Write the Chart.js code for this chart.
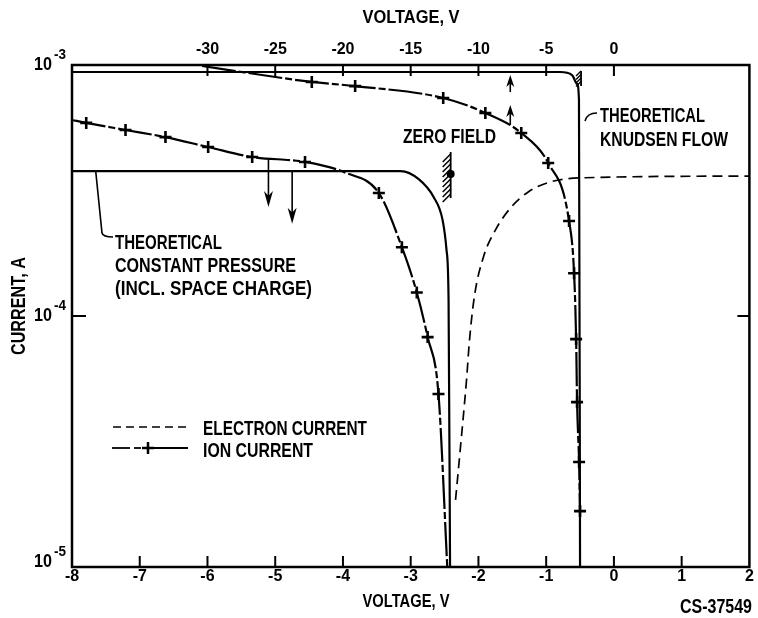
<!DOCTYPE html>
<html><head><meta charset="utf-8">
<script src="https://cdn.jsdelivr.net/npm/chart.js@4/dist/chart.umd.min.js"></script>
<style>html,body{margin:0;padding:0;background:#fff;}canvas{display:block;}</style>
</head><body>
<canvas id="c" width="758" height="618"></canvas>
<script>
// ---------- data ----------
// bottom-axis voltage ticks (V) and top-axis voltage ticks (V)
const bottomTicks = [-8, -7, -6, -5, -4, -3, -2, -1, 0, 1, 2];
const topTicks = [-30, -25, -20, -15, -10, -5, 0];
const yTickLabels = [1e-3, 1e-4, 1e-5];
const yTickMarks = [1e-4];

// Theoretical Knudsen flow (top voltage axis)
const knudsenV = [-40, -3.97, -3.09, -2.72, -2.58, -2.50];
const knudsenI = [9.38e-4, 9.38e-4, 9.12e-4, 8.40e-4, 7.26e-4, 1e-5];

// Theoretical constant pressure incl. space charge (bottom voltage axis)
const constPV = [-8, -3.147, -2.882, -2.662, -2.529, -2.471, -2.441, -2.419];
const constPI = [3.78e-4, 3.78e-4, 3.51e-4, 2.98e-4, 2.41e-4, 1.83e-4, 1.16e-4, 1e-5];

// Electron current (bottom voltage axis)
const electronV = [-2.338, -2.265, -2.176, -2.132, -2.059, -1.926, -1.75, -1.529, -1.265, -0.941, -0.5, 2];
const electronI = [1.85e-5, 3.01e-5, 5.56e-5, 8.02e-5, 1.20e-4, 1.72e-4, 2.20e-4, 2.69e-4, 3.12e-4, 3.42e-4, 3.55e-4, 3.61e-4];

// Ion current, upper branch (top voltage axis)
const ionTopV = [-30.4, -22.3, -19.1, -12.6, -9.49, -6.84, -4.85, -3.31, -2.94, -2.79, -2.72, -2.57, -2.50];
const ionTopI = [9.91e-4, 8.56e-4, 8.24e-4, 7.39e-4, 6.44e-4, 5.36e-4, 4.07e-4, 2.39e-4, 1.48e-4, 8.09e-5, 4.54e-5, 2.62e-5, 1.67e-5];
const ionTopMarked = [0, 1, 1, 1, 1, 1, 1, 1, 1, 1, 1, 1, 1];

// Ion current, lower branch (bottom voltage axis)
const ionLowV = [-8, -7.79, -7.21, -6.62, -5.99, -5.34, -4.56, -3.96, -3.47, -3.13, -2.91, -2.75, -2.59, -2.46];
const ionLowI = [6.04e-4, 5.88e-4, 5.51e-4, 5.16e-4, 4.71e-4, 4.30e-4, 4.11e-4, 3.72e-4, 3.09e-4, 1.88e-4, 1.24e-4, 8.24e-5, 4.89e-5, 1e-5];
const ionLowMarked = [0, 1, 1, 1, 1, 1, 1, 0, 1, 1, 1, 1, 1, 0];

// Arrows pointing to the axis used by each ion branch
const downArrowV = [-5.1, -4.75];
const downArrowFrom = [4.26e-4, 3.78e-4];
const downArrowTo = [2.72e-4, 2.33e-4];
const upArrowV = [-7.65, -7.65];
const upArrowFrom = [7.8e-4, 5.77e-4];
const upArrowTo = [9.12e-4, 6.93e-4];

// Zero-field marker (bottom axis)
const zeroFieldV = -2.41;
const zeroFieldI = 3.68e-4;
const zeroFieldRange = [4.5e-4, 2.95e-4];

// Texts
const axisTitleX = 'VOLTAGE, V';
const axisTitleY = 'CURRENT, A';
const figureId = 'CS-37549';
const legendLabels = ['ELECTRON CURRENT', 'ION CURRENT'];
const zeroFieldLabel = 'ZERO FIELD';
const knudsenLabel = ['THEORETICAL', 'KNUDSEN FLOW'];
const constPLabel = ['THEORETICAL', 'CONSTANT PRESSURE', '(INCL. SPACE CHARGE)'];

// ---------- drawing ----------
const FONT = '"Liberation Sans", Arial, "DejaVu Sans", sans-serif';
const pts = (xs, ys) => xs.map((v, i) => ({x: v, y: ys[i]}));

function fitText(ctx, str, x, yc, w, cap, align, rot) {
  const size = cap / 0.716;
  ctx.save();
  ctx.font = 'bold ' + size + 'px ' + FONT;
  const mw = ctx.measureText(str).width;
  ctx.translate(x, yc);
  if (rot) ctx.rotate(rot);
  ctx.scale(w / mw, 1);
  ctx.textBaseline = 'alphabetic';
  ctx.textAlign = align === 'center' ? 'center' : 'left';
  ctx.fillStyle = '#000';
  ctx.fillText(str, 0, cap / 2);
  ctx.restore();
}

function arrow(ctx, x, y1, y2, hl, hw) {
  const dir = y2 > y1 ? 1 : -1;
  ctx.beginPath();
  ctx.moveTo(x, y1);
  ctx.lineTo(x, y2 - dir * hl * 0.6);
  ctx.stroke();
  ctx.beginPath();
  ctx.moveTo(x, y2);
  ctx.lineTo(x - hw, y2 - dir * hl);
  ctx.lineTo(x, y2 - dir * hl * 0.7);
  ctx.lineTo(x + hw, y2 - dir * hl);
  ctx.closePath();
  ctx.fill();
}

const decor = {
  id: 'decor',
  afterDraw(chart) {
    const {ctx, chartArea: a} = chart;
    const sx = chart.scales.x, st = chart.scales.xTop, sy = chart.scales.y;
    ctx.save();
    ctx.strokeStyle = '#000';
    ctx.fillStyle = '#000';
    ctx.lineCap = 'butt';

    // frame
    ctx.lineWidth = 2.5;
    ctx.strokeRect(a.left, a.top, a.right - a.left, a.bottom - a.top);

    // inward ticks
    ctx.lineWidth = 2;
    sx.ticks.forEach(t => {
      if (t.value === sx.min || t.value === sx.max) return;
      const px = sx.getPixelForValue(t.value);
      ctx.beginPath(); ctx.moveTo(px, a.bottom); ctx.lineTo(px, a.bottom - 11); ctx.stroke();
    });
    st.ticks.forEach(t => {
      const px = st.getPixelForValue(t.value);
      ctx.beginPath(); ctx.moveTo(px, a.top); ctx.lineTo(px, a.top + 11); ctx.stroke();
    });
    yTickMarks.forEach(v => {
      const py = sy.getPixelForValue(v);
      ctx.beginPath(); ctx.moveTo(a.left, py); ctx.lineTo(a.left + 14, py); ctx.stroke();
      ctx.beginPath(); ctx.moveTo(a.right, py); ctx.lineTo(a.right - 12, py); ctx.stroke();
    });

    // y tick labels 10^n
    yTickLabels.forEach(v => {
      const py = sy.getPixelForValue(v);
      const exp = Math.round(Math.log10(v));
      const yc = (v === sy.min) ? py - 7 : py - 2;
      fitText(ctx, '10', 34, yc, 18, 13, 'left');
      fitText(ctx, String(exp), 54, yc - 9.5, 12, 10, 'left');
    });

    // axis titles and id
    fitText(ctx, axisTitleX, 411, 16.5, 97, 13, 'center');
    fitText(ctx, axisTitleX, 406, 600, 87, 13, 'center');
    fitText(ctx, axisTitleY, 17.5, 306, 98, 14, 'center', -Math.PI / 2);
    fitText(ctx, figureId, 680, 606, 72, 14, 'left');

    // annotations
    fitText(ctx, zeroFieldLabel, 403, 136, 93, 14, 'left');
    fitText(ctx, knudsenLabel[0], 600, 115, 105, 14, 'left');
    fitText(ctx, knudsenLabel[1], 600, 138.5, 128, 14, 'left');
    fitText(ctx, constPLabel[0], 115, 241.5, 107, 15, 'left');
    fitText(ctx, constPLabel[1], 115, 264, 181, 15, 'left');
    fitText(ctx, constPLabel[2], 115, 287.5, 197, 15, 'left');

    // leaders
    ctx.lineWidth = 1.6;
    ctx.beginPath();
    ctx.moveTo(sx.getPixelForValue(-7.65), sy.getPixelForValue(constPI[0]));
    ctx.lineTo(102, 233);
    ctx.quadraticCurveTo(103, 237, 113, 237);
    ctx.stroke();
    ctx.beginPath();
    ctx.moveTo(585, 121);
    ctx.quadraticCurveTo(587, 113, 597, 113);
    ctx.stroke();

    // legend
    ctx.lineWidth = 1.6;
    ctx.setLineDash([8, 5]);
    ctx.beginPath(); ctx.moveTo(113, 427); ctx.lineTo(190, 427); ctx.stroke();
    ctx.setLineDash([]);
    ctx.lineWidth = 1.8;
    [[112, 130], [134, 141], [154, 188]].forEach(s => {
      ctx.beginPath(); ctx.moveTo(s[0], 448); ctx.lineTo(s[1], 448); ctx.stroke();
    });
    ctx.lineWidth = 2.5;
    ctx.beginPath(); ctx.moveTo(142, 448); ctx.lineTo(154, 448); ctx.moveTo(148, 442); ctx.lineTo(148, 454); ctx.stroke();
    fitText(ctx, legendLabels[0], 203, 428, 164, 14, 'left');
    fitText(ctx, legendLabels[1], 203, 450, 110, 14, 'left');

    // arrows
    ctx.lineWidth = 1.6;
    downArrowV.forEach((v, i) => {
      arrow(ctx, sx.getPixelForValue(v), sy.getPixelForValue(downArrowFrom[i]), sy.getPixelForValue(downArrowTo[i]), 16, 4.5);
    });
    upArrowV.forEach((v, i) => {
      arrow(ctx, st.getPixelForValue(v), sy.getPixelForValue(upArrowFrom[i]), sy.getPixelForValue(upArrowTo[i]), 12, 4);
    });

    // zero field marker
    const zx = sx.getPixelForValue(zeroFieldV);
    const zy1 = sy.getPixelForValue(zeroFieldRange[0]);
    const zy2 = sy.getPixelForValue(zeroFieldRange[1]);
    ctx.lineWidth = 1.8;
    ctx.beginPath(); ctx.moveTo(zx, zy1); ctx.lineTo(zx, zy2); ctx.stroke();
    ctx.lineWidth = 1.5;
    for (let yy = zy1 + 2; yy < zy2 - 4; yy += 5) {
      ctx.beginPath(); ctx.moveTo(zx, yy); ctx.lineTo(zx - 8, yy + 8); ctx.stroke();
    }
    ctx.beginPath(); ctx.arc(zx, sy.getPixelForValue(zeroFieldI), 4, 0, Math.PI * 2); ctx.fill();

    // Knudsen wall hatch
    const kx = st.getPixelForValue(knudsenV[knudsenV.length - 1]) + 1;
    ctx.lineWidth = 1.8;
    ctx.beginPath(); ctx.moveTo(kx, a.top + 6); ctx.lineTo(kx, a.top + 21); ctx.stroke();
    ctx.lineWidth = 1.3;
    for (let yy = a.top + 6; yy < a.top + 19; yy += 3.5) {
      ctx.beginPath(); ctx.moveTo(kx, yy); ctx.lineTo(kx - 5, yy + 5); ctx.stroke();
    }
    ctx.restore();
  }
};

const tickFont = {family: FONT, weight: 'bold', size: 16};
new Chart(document.getElementById('c'), {
  type: 'line',
  data: {
    datasets: [
      {label: 'Theoretical Knudsen flow', xAxisID: 'xTop', yAxisID: 'y', data: pts(knudsenV, knudsenI),
       borderColor: '#000', borderWidth: 2.2, pointRadius: 0, cubicInterpolationMode: 'monotone', fill: false},
      {label: 'Theoretical constant pressure', xAxisID: 'x', yAxisID: 'y', data: pts(constPV, constPI),
       borderColor: '#000', borderWidth: 2.2, pointRadius: 0, cubicInterpolationMode: 'monotone', fill: false},
      {label: 'Electron current', xAxisID: 'x', yAxisID: 'y', data: pts(electronV, electronI),
       borderColor: '#000', borderWidth: 1.7, borderDash: [10, 6], pointRadius: 0, cubicInterpolationMode: 'monotone', fill: false},
      {label: 'Ion current (top axis)', xAxisID: 'xTop', yAxisID: 'y', data: pts(ionTopV, ionTopI),
       borderColor: '#000', borderWidth: 2.2, borderDash: [34, 3, 7, 3], cubicInterpolationMode: 'monotone', fill: false,
       pointStyle: 'cross', pointRadius: c => ionTopMarked[c.dataIndex] ? 6 : 0, pointBorderWidth: 2.6,
       pointBorderColor: '#000', pointBackgroundColor: '#000'},
      {label: 'Ion current (bottom axis)', xAxisID: 'x', yAxisID: 'y', data: pts(ionLowV, ionLowI),
       borderColor: '#000', borderWidth: 2.2, borderDash: [34, 3, 7, 3], cubicInterpolationMode: 'monotone', fill: false,
       pointStyle: 'cross', pointRadius: c => ionLowMarked[c.dataIndex] ? 6 : 0, pointBorderWidth: 2.6,
       pointBorderColor: '#000', pointBackgroundColor: '#000'}
    ]
  },
  options: {
    responsive: false, animation: false, devicePixelRatio: 1,
    layout: {padding: {left: 0, right: 6, top: 0, bottom: 0}},
    plugins: {legend: {display: false}, tooltip: {enabled: false}},
    scales: {
      x: {type: 'linear', position: 'bottom', min: -8, max: 2,
          afterBuildTicks: s => { s.ticks = bottomTicks.map(v => ({value: v})); },
          ticks: {autoSkip: false, maxRotation: 0, padding: 0, color: '#000', font: tickFont},
          grid: {display: false, drawTicks: false}, border: {display: false},
          afterFit: s => { s.height = 51; }},
      xTop: {type: 'linear', position: 'top', min: -40, max: 10,
          afterBuildTicks: s => { s.ticks = topTicks.map(v => ({value: v})); },
          ticks: {autoSkip: false, maxRotation: 0, padding: 6, color: '#000', font: tickFont},
          grid: {display: false, drawTicks: false}, border: {display: false},
          afterFit: s => { s.height = 65; }},
      y: {type: 'logarithmic', position: 'left', min: 1e-5, max: 1e-3,
          ticks: {display: false}, grid: {display: false, drawTicks: false}, border: {display: false},
          afterFit: s => { s.width = 72; }}
    }
  },
  plugins: [decor]
});
</script>
</body></html>
